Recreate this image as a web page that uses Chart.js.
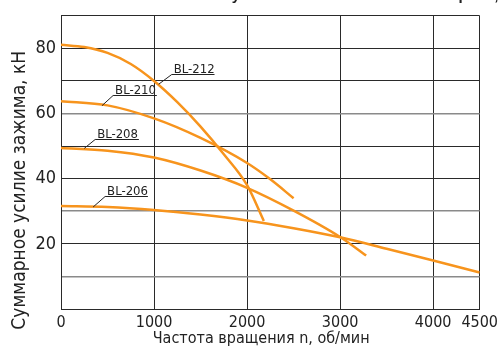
<!DOCTYPE html>
<html>
<head>
<meta charset="utf-8">
<script src="https://cdn.jsdelivr.net/npm/chart.js@4"></script>
<style>
  html, body { margin: 0; padding: 0; background: #fff; }
  #wrap { width: 502px; height: 352px; }
</style>
</head>
<body>
<div id="wrap"><canvas id="chart" width="502" height="352"></canvas></div>
<script>
// --- data: clamping force (kN) vs speed (rpm)
const rpm212 = [0, 250, 500, 750, 1000, 1250, 1500, 1750, 2000, 2180];
const kn212  = [81.1, 80.4, 78.6, 75.2, 70, 63.5, 56, 47.5, 38, 27];
const rpm210 = [0, 500, 1000, 1500, 2000, 2250, 2500];
const kn210  = [63.8, 62.5, 58.5, 52.5, 44.8, 39.8, 34];
const rpm208 = [0, 500, 1000, 1500, 2000, 2500, 3000, 3280];
const kn208  = [49.4, 48.6, 46.5, 42.5, 37.2, 30.2, 22.1, 16.4];
const rpm206 = [0, 500, 1000, 1500, 2000, 2500, 3000, 3500, 4000, 4500];
const kn206  = [31.6, 31.3, 30.4, 29, 27.2, 24.8, 22, 18.5, 14.9, 11.2];

const models   = ['BL-212', 'BL-210', 'BL-208', 'BL-206'];
const xTicks   = [0, 1000, 2000, 3000, 4000, 4500];
const yLabels  = [20, 40, 60, 80];
const yGray    = [10, 30, 60];

const TITLE  = 'Зависимость усилия зажима от частоты патрона, кН';
const XTITLE = 'Частота вращения n, об/мин';
const YTITLE = 'Суммарное усилие зажима, кН';

const ORANGE = '#F7941D';
const NARROW = '"Liberation Sans Narrow", "DejaVu Sans Condensed", "Liberation Sans", sans-serif';

// leader-line callouts, in data units: [curve x, curve y, shelf x0, shelf x1, shelf y]
const callouts = [
  [1050, 69.0, 1190, 1650, 72.0],
  [440, 62.4, 560, 1030, 65.6],
  [250, 49.3, 367, 837, 52.3],
  [345, 31.3, 474, 934, 34.6]
];

const pts = (xs, ys) => xs.map((x, i) => ({ x, y: ys[i] }));
const series = [pts(rpm212, kn212), pts(rpm210, kn210), pts(rpm208, kn208), pts(rpm206, kn206)];

const extras = {
  id: 'extras',
  afterDatasetsDraw(chart) {
    const { ctx, scales: { x, y }, chartArea: a } = chart;
    ctx.save();
    // callouts
    ctx.strokeStyle = '#222';
    ctx.lineWidth = 1;
    ctx.fillStyle = '#222';
    ctx.font = '13px ' + NARROW;
    ctx.textBaseline = 'alphabetic';
    callouts.forEach((c, i) => {
      const px = x.getPixelForValue(c[0]), py = y.getPixelForValue(c[1]);
      const sx0 = x.getPixelForValue(c[2]), sx1 = x.getPixelForValue(c[3]);
      const sy = Math.round(y.getPixelForValue(c[4])) + 0.5;
      ctx.beginPath();
      ctx.moveTo(px, py);
      ctx.lineTo(sx0, sy);
      ctx.lineTo(sx1, sy);
      ctx.stroke();
      ctx.fillText(models[i], sx0 + 2, sy - 2);
    });
    // axis titles
    ctx.fillStyle = '#222';
    ctx.font = '16px ' + NARROW;
    ctx.textAlign = 'center';
    ctx.textBaseline = 'middle';
    ctx.fillText(XTITLE, a.left + (a.right - a.left) * 0.478, 339);
    ctx.save();
    ctx.translate(20, a.top + (a.bottom - a.top) * 0.595);
    ctx.rotate(-Math.PI / 2);
    ctx.font = '19px ' + NARROW;
    ctx.fillText(YTITLE, 0, 0);
    ctx.restore();
    // title, mostly above the picture edge
    ctx.font = 'bold 15px "Liberation Sans", Arial, sans-serif';
    ctx.textAlign = 'left';
    ctx.textBaseline = 'alphabetic';
    const lead = ctx.measureText('Зависимость ').width + ctx.measureText('у').width / 2;
    ctx.fillText(TITLE, 236 - lead, 0);
    ctx.restore();
  }
};

new Chart(document.getElementById('chart'), {
  type: 'line',
  data: {
    datasets: series.map((d, i) => ({
      label: models[i],
      data: d,
      borderColor: ORANGE,
      borderWidth: 2.5,
      pointRadius: 0,
      fill: false,
      cubicInterpolationMode: 'monotone'
    }))
  },
  options: {
    responsive: false,
    animation: false,
    layout: { padding: { top: 13, right: 19, left: 0, bottom: 0 } },
    plugins: { legend: { display: false }, tooltip: { enabled: false } },
    scales: {
      x: {
        type: 'linear',
        min: 0, max: 4500,
        afterBuildTicks: s => { s.ticks = xTicks.map(v => ({ value: v })); },
        afterFit: s => { s.height = 43; },
        grid: { color: '#2a2a2a', lineWidth: 1, drawTicks: false },
        border: { color: '#2a2a2a', width: 1 },
        ticks: {
          color: '#222', padding: 4, maxRotation: 0, autoSkip: false,
          callback: v => String(v),
          font: { family: NARROW, size: 16 }
        }
      },
      y: {
        min: 0, max: 90,
        afterFit: s => { s.width = 61; },
        grid: {
          drawTicks: false,
          color: c => yGray.includes(c.tick.value) ? '#8a8a8a' : '#2a2a2a',
          lineWidth: c => yGray.includes(c.tick.value) ? 1.6 : 1
        },
        border: { color: '#2a2a2a', width: 1 },
        ticks: {
          stepSize: 10, color: '#222', padding: 5,
          callback: v => yLabels.includes(v) ? v : '',
          font: { family: NARROW, size: 18 }
        }
      }
    }
  },
  plugins: [extras]
});
</script>
</body>
</html>
